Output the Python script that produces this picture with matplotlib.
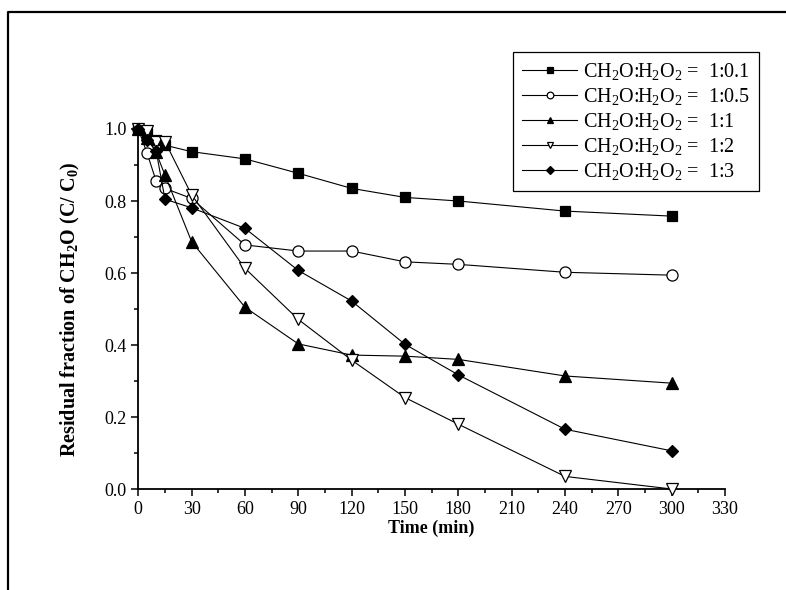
import matplotlib
matplotlib.use("Agg")
import matplotlib.pyplot as plt
from matplotlib.lines import Line2D
from matplotlib.ticker import MultipleLocator, FormatStrFormatter

plt.rcParams['font.family'] = ['Liberation Serif', 'DejaVu Serif']
plt.rcParams['mathtext.default'] = 'regular'

# sampling times (min)
time = [0, 5, 10, 15, 30, 60, 90, 120, 150, 180, 240, 300]

# residual fraction C/C0 for each CH2O:H2O2 ratio
r_01 = [1.0, 0.99, 0.97, 0.955, 0.937, 0.917, 0.877, 0.835, 0.810, 0.800, 0.772, 0.758]
r_05 = [1.0, 0.932, 0.856, 0.835, 0.807, 0.678, 0.661, 0.661, 0.631, 0.624, 0.602, 0.594]
r_1 = [1.0, 0.975, 0.935, 0.872, 0.687, 0.505, 0.403, 0.372, 0.369, 0.360, 0.314, 0.294]
r_2 = [1.0, 0.995, 0.965, 0.965, 0.817, 0.613, 0.471, 0.358, 0.254, 0.180, 0.035, 0.0]
r_3 = [1.0, 0.97, 0.94, 0.805, 0.781, 0.724, 0.607, 0.522, 0.402, 0.317, 0.166, 0.106]

ratios = ['1:0.1', '1:0.5', '1:1', '1:2', '1:3']

fig = plt.figure(figsize=(7.86, 5.90), dpi=100)
ax = fig.add_axes([138.3/786, 1-489/590, (725-138.3)/786, (489-129)/590])

styles = [
    dict(marker='s', mfc='black', ms=7),
    dict(marker='o', mfc='white', ms=8),
    dict(marker='^', mfc='black', ms=8),
    dict(marker='v', mfc='white', ms=8),
    dict(marker='D', mfc='black', ms=6.5),
]
for ys, lab, st in zip([r_01, r_05, r_1, r_2, r_3], ratios, styles):
    ax.plot(time, ys, color='black', lw=0.8, mec='black', mew=0.9,
            label='CH$_2$O:H$_2$O$_2$ =  ' + lab, clip_on=False, zorder=3, **st)

ax.set_xlim(0, 330)
ax.set_ylim(0, 1.0)
ax.xaxis.set_major_locator(MultipleLocator(30))
ax.xaxis.set_minor_locator(MultipleLocator(15))
ax.yaxis.set_major_locator(MultipleLocator(0.2))
ax.yaxis.set_minor_locator(MultipleLocator(0.1))
ax.yaxis.set_major_formatter(FormatStrFormatter('%.1f'))

for s in ['top', 'right']:
    ax.spines[s].set_visible(False)
for s in ['left', 'bottom']:
    ax.spines[s].set_linewidth(1.3)
ax.tick_params(which='major', direction='out', length=5, width=1.1, labelsize=13)
ax.tick_params(which='minor', direction='out', length=3, width=1.1)

ax.set_xlabel('Time (min)', fontsize=13, fontweight='bold', labelpad=1)
ax.set_ylabel('Residual fraction of CH$_2$O (C/ C$_0$)', fontsize=14.5,
              fontweight='bold', labelpad=16)

leg = ax.legend(loc='upper right', bbox_to_anchor=(759/786, 1-52/590),
                bbox_transform=fig.transFigure, fontsize=14.5, frameon=True,
                fancybox=False, edgecolor='black', framealpha=1,
                markerscale=0.6, handlelength=2.7, labelspacing=0.2,
                borderpad=0.45, handletextpad=0.3, borderaxespad=0)
leg.get_frame().set_linewidth(0.9)

# page frame around the figure
fig.add_artist(Line2D([8/786, 8/786, 1.0], [0.0, 1-12/590, 1-12/590],
                      transform=fig.transFigure, color='black', lw=1.6))

fig.savefig('out.png', dpi=100)
